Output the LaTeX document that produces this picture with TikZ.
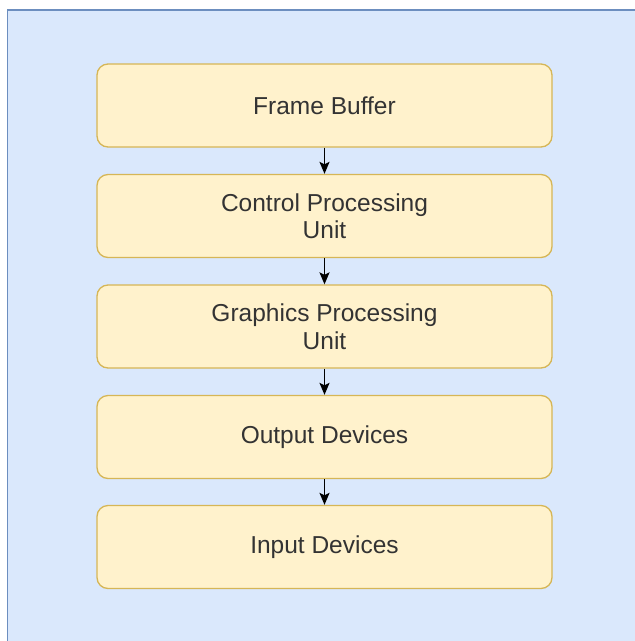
\documentclass[tikz,border=0pt]{standalone}
\usepackage{fontspec}
\setmainfont{Liberation Sans}
\usetikzlibrary{arrows.meta}
\definecolor{bgfill}{HTML}{DAE8FC}
\definecolor{bgline}{HTML}{6C8EBF}
\definecolor{boxfill}{HTML}{FFF2CC}
\definecolor{boxline}{HTML}{D6B656}
\definecolor{txt}{HTML}{333333}
\begin{document}
\begin{tikzpicture}[x=1pt,y=-1pt,
  unitbox/.style={draw=boxline, fill=boxfill, line width=1.3pt, rounded corners=11pt,
    minimum width=455pt, minimum height=83pt, align=center, text=txt,
    font=\fontsize{24.5}{27.5}\selectfont, inner sep=0pt},
  conn/.style={-{Stealth[length=12pt,width=10pt,inset=2.5pt]}, line width=1.7pt, black}]
\useasboundingbox (0,0) rectangle (635,641);
\path[fill=bgfill, draw=bgline, line width=1.3pt] (7.5,10) rectangle (640,650);
\node[unitbox] (fb)  at (324.5,105.5) {Frame Buffer};
\node[unitbox] (cpu) at (324.5,216) {Control Processing\\Unit};
\node[unitbox] (gpu) at (324.5,326.5) {Graphics Processing\\Unit};
\node[unitbox] (out) at (324.5,437) {Output Devices};
\node[unitbox] (in)  at (324.5,547) {Input Devices};
\draw[conn] (fb) -- (cpu);
\draw[conn] (cpu) -- (gpu);
\draw[conn] (gpu) -- (out);
\draw[conn] (out) -- (in);
\end{tikzpicture}
\end{document}
